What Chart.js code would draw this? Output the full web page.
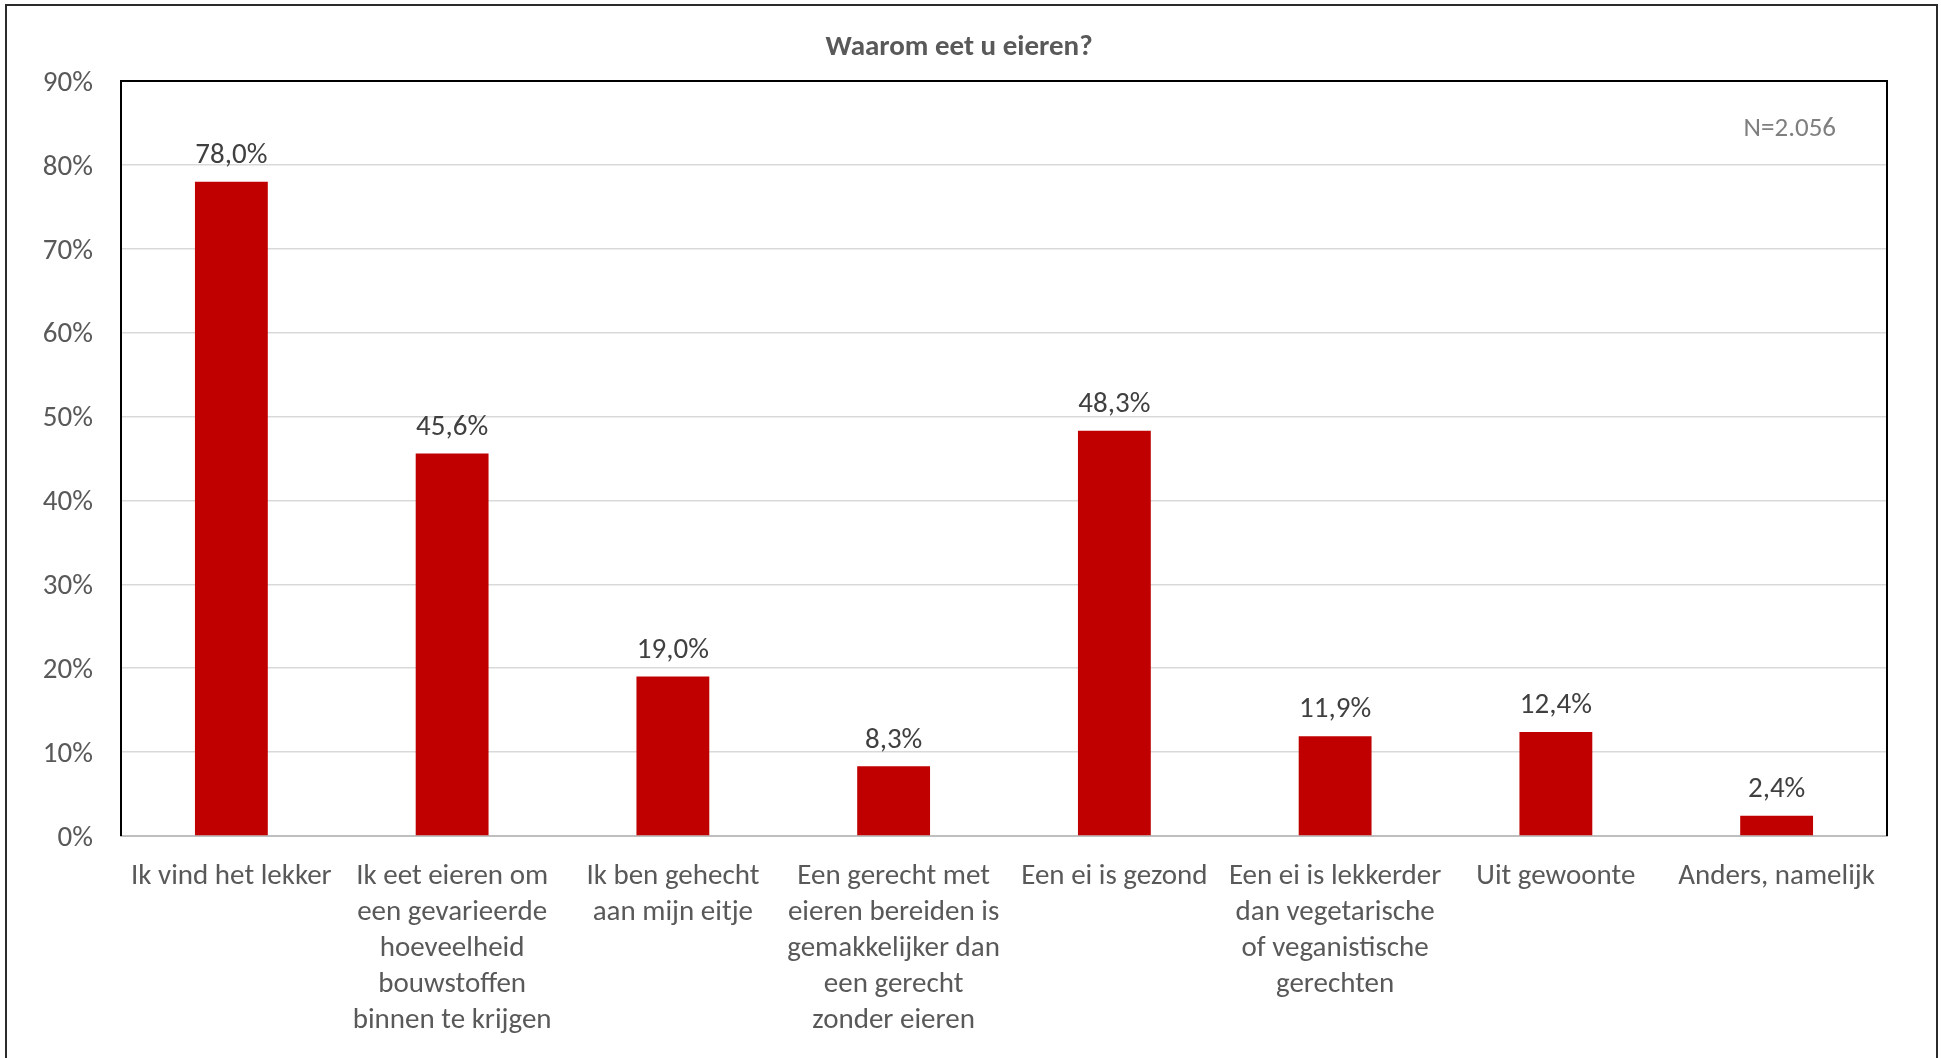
<!DOCTYPE html>
<html>
<head>
<meta charset="utf-8">
<script src="https://cdn.jsdelivr.net/npm/chart.js@4.4.1/dist/chart.umd.min.js"></script>
<style>
  html, body { margin: 0; padding: 0; background: #fff; overflow: hidden; }
  #frame { position: absolute; left: 5px; top: 4px; width: 1929px; height: 1100px; border: 2px solid #2b2b2b; }
  #wrap { position: absolute; left: 0; top: 0; width: 1941px; height: 1058px; }
</style>
</head>
<body>
<div id="frame"></div>
<div id="wrap"><canvas id="chart-eieren"></canvas></div>
<script>
const categories = [
  'Ik vind het lekker',
  ['Ik eet eieren om', 'een gevarieerde', 'hoeveelheid', 'bouwstoffen', 'binnen te krijgen'],
  ['Ik ben gehecht', 'aan mijn eitje'],
  ['Een gerecht met', 'eieren bereiden is', 'gemakkelijker dan', 'een gerecht', 'zonder eieren'],
  'Een ei is gezond',
  ['Een ei is lekkerder', 'dan vegetarische', 'of veganistische', 'gerechten'],
  'Uit gewoonte',
  'Anders, namelijk'
];
const percentages = [78.0, 45.6, 19.0, 8.3, 48.3, 11.9, 12.4, 2.4];
const yTicks = [0, 10, 20, 30, 40, 50, 60, 70, 80, 90];
const chartTitle = 'Waarom eet u eieren?';
const sampleNote = 'N=2.056';

const FONT = 'Carlito, Lato, sans-serif';
Chart.defaults.font.family = FONT;
Chart.defaults.color = '#595959';

// labels boven de staven + kader om plotgebied + N
const extras = {
  id: 'extras',
  afterDatasetsDraw(chart) {
    const ctx = chart.ctx;
    const meta = chart.getDatasetMeta(0);
    ctx.save();
    ctx.font = '29px ' + FONT;
    ctx.fillStyle = '#404040';
    ctx.textAlign = 'center';
    ctx.textBaseline = 'middle';
    meta.data.forEach((bar, i) => {
      const txt = percentages[i].toFixed(1).replace('.', ',') + '%';
      ctx.fillText(txt, bar.x, bar.y - 26);
    });
    ctx.restore();
  },
  afterDraw(chart) {
    const { ctx, chartArea: a } = chart;
    ctx.save();
    ctx.strokeStyle = '#000';
    ctx.lineWidth = 2;
    ctx.beginPath();
    ctx.moveTo(a.left, a.bottom);
    ctx.lineTo(a.left, a.top);
    ctx.lineTo(a.right, a.top);
    ctx.lineTo(a.right, a.bottom);
    ctx.stroke();
    ctx.font = '27px ' + FONT;
    ctx.fillStyle = '#7f7f7f';
    ctx.textAlign = 'right';
    ctx.textBaseline = 'middle';
    ctx.fillText(sampleNote, a.right - 51, a.top + 48);
    ctx.restore();
  }
};

new Chart(document.getElementById('chart-eieren').getContext('2d'), {
  type: 'bar',
  data: {
    labels: categories,
    datasets: [{
      data: percentages,
      backgroundColor: '#c00000',
      barPercentage: 0.33,
      categoryPercentage: 1
    }]
  },
  options: {
    responsive: true,
    maintainAspectRatio: false,
    animation: false,
    layout: { padding: { left: 31, right: 54, top: 0, bottom: 0 } },
    plugins: {
      legend: { display: false },
      tooltip: { enabled: false },
      title: {
        display: true,
        text: chartTitle,
        color: '#595959',
        font: { size: 29, weight: 'bold', lineHeight: 1.2 },
        padding: { top: 30, bottom: 16.2 }
      }
    },
    scales: {
      x: {
        grid: { display: false, drawTicks: false },
        border: { color: '#bfbfbf', width: 2 },
        ticks: {
          autoSkip: false, maxRotation: 0, minRotation: 0, padding: 23,
          color: '#595959',
          font: { size: 29, lineHeight: 1.24 }
        },
        afterFit(scale) { scale.height = 222; }
      },
      y: {
        min: 0, max: 90,
        afterBuildTicks(scale) { scale.ticks = yTicks.map(v => ({ value: v })); },
        grid: { color: '#d9d9d9', lineWidth: 1.5, drawTicks: false },
        border: { display: false },
        ticks: {
          padding: 28,
          labelOffset: 2.5,
          color: '#595959',
          font: { size: 29 },
          callback: v => v + '%'
        },
        afterFit(scale) { scale.width = 90; }
      }
    }
  },
  plugins: [extras]
});
</script>
</body>
</html>
